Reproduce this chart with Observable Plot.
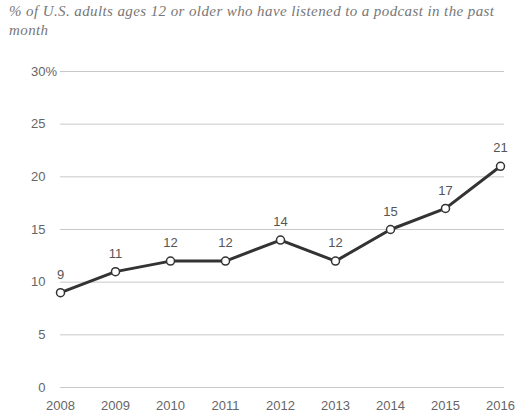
<!DOCTYPE html>
<html>
<head>
<meta charset="utf-8">
<script src="https://cdn.jsdelivr.net/npm/d3@7"></script>
<script src="https://cdn.jsdelivr.net/npm/@observablehq/plot@0.6"></script>
<style>
  body { margin: 0; background: #fff; }
  #title { font-family: "Liberation Serif", "DejaVu Serif", serif; font-style: italic; font-size: 15px; letter-spacing: 0.4px; color: #777;
           line-height: 19px; padding: 2px 0 0 9px; width: 510px; height: 42px; box-sizing: border-box; }
  svg { display: block; }
</style>
</head>
<body>
<div id="title">% of U.S. adults ages 12 or older who have listened to a podcast in the past month</div>
<div id="chart"></div>
<script>
const years = [2008, 2009, 2010, 2011, 2012, 2013, 2014, 2015, 2016];
const values = [9, 11, 12, 12, 14, 12, 15, 17, 21];
const yTicks = [0, 5, 10, 15, 20, 25, 30];
const data = years.map((y, i) => ({year: y, value: values[i]}));

const chart = Plot.plot({
  width: 519,
  height: 373,
  marginTop: 29,
  marginBottom: 28,
  marginLeft: 60,
  marginRight: 19,
  style: {fontFamily: "Liberation Sans, Arial, sans-serif", fontSize: "13px", color: "#666", background: "#fff"},
  x: {domain: [2008, 2016], ticks: years, tickFormat: d => String(d), tickSize: 0, tickPadding: 13, label: null},
  y: {domain: [0, 30], ticks: yTicks, tickSize: 0, tickPadding: 15, label: null, tickFormat: d => String(d)},
  marks: [
    Plot.ruleY(yTicks, {stroke: "#c8c8c8", strokeWidth: 1, insetRight: -4}),
    Plot.text([30], {x: 2008, y: d => d, text: () => "%", textAnchor: "start", dx: -15, fill: "#666", fontSize: 13}),
    Plot.line(data, {x: "year", y: "value", stroke: "#333", strokeWidth: 3}),
    Plot.dot(data, {x: "year", y: "value", r: 4, fill: "#fff", stroke: "#333", strokeWidth: 1.5}),
    Plot.text(data, {x: "year", y: "value", text: d => String(d.value), dy: -18, fill: "#555", fontSize: 13})
  ]
});
document.getElementById("chart").appendChild(chart);
</script>
</body>
</html>
